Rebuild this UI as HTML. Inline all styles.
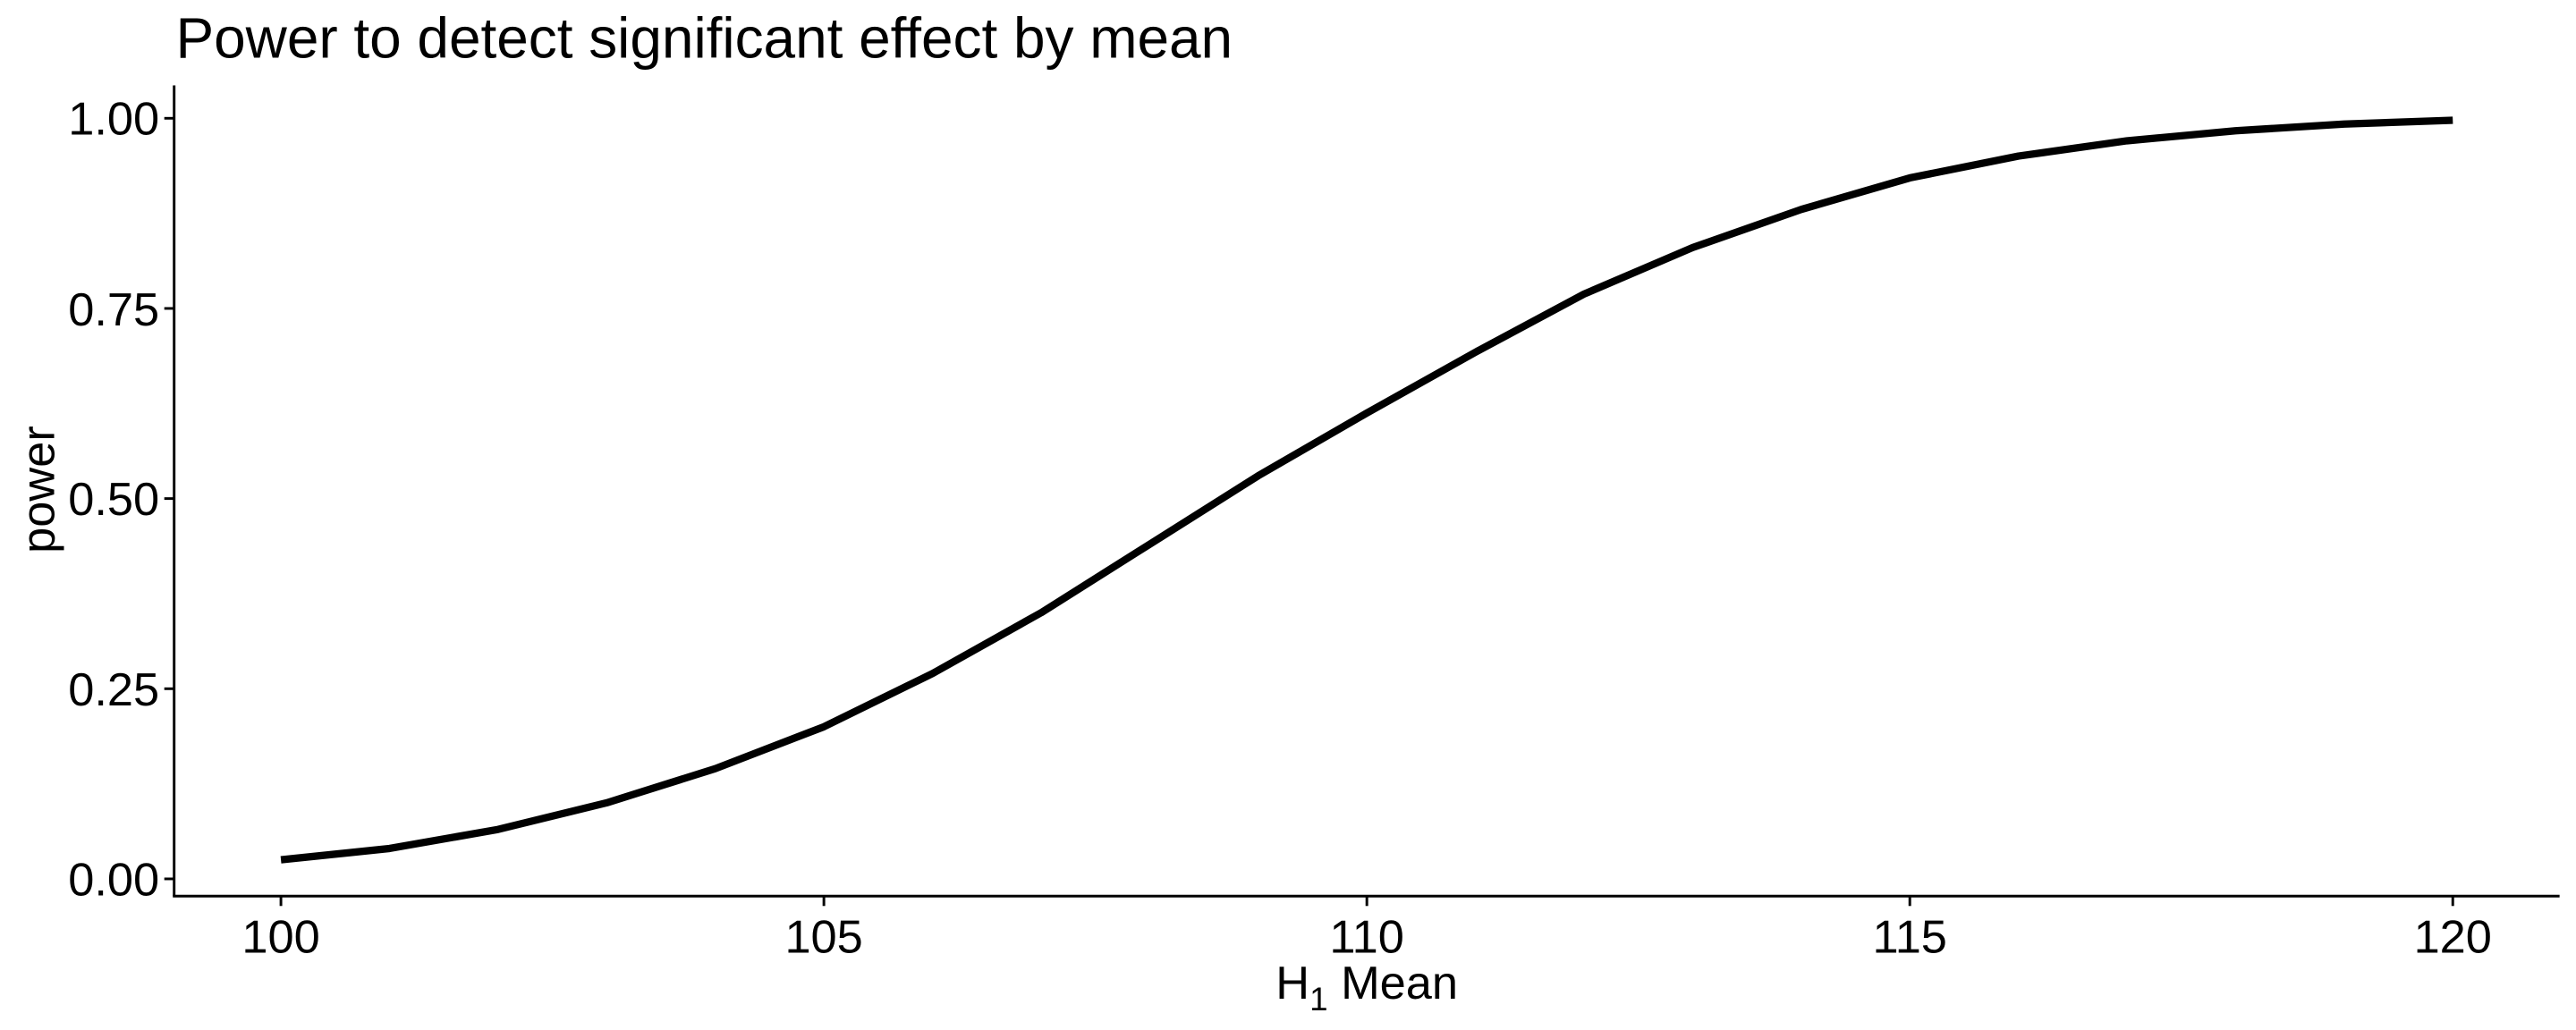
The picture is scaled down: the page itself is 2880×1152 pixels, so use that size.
<!DOCTYPE html>
<html><head><meta charset="utf-8"><style>html,body{margin:0;padding:0;background:#fff}svg{display:block}</style></head>
<body>
<svg width="2880" height="1152" viewBox="0 0 1568 627" preserveAspectRatio="none" xmlns="http://www.w3.org/2000/svg" font-family="Liberation Sans, sans-serif">
<rect width="1568" height="627" fill="#fff"/>
<text x="107" y="35" font-size="34.8" fill="#000">Power to detect significant effect by mean</text>
<g stroke="#000" stroke-width="1.6" fill="none">
<line x1="106" y1="52" x2="106" y2="545.5"/>
<line x1="105.2" y1="545.5" x2="1558" y2="545.5"/>
<line x1="100" y1="72" x2="106" y2="72"/>
<line x1="100" y1="187.75" x2="106" y2="187.75"/>
<line x1="100" y1="303.5" x2="106" y2="303.5"/>
<line x1="100" y1="419.25" x2="106" y2="419.25"/>
<line x1="100" y1="535" x2="106" y2="535"/>
<line x1="171" y1="545.5" x2="171" y2="551.5"/>
<line x1="501.5" y1="545.5" x2="501.5" y2="551.5"/>
<line x1="832" y1="545.5" x2="832" y2="551.5"/>
<line x1="1162.5" y1="545.5" x2="1162.5" y2="551.5"/>
<line x1="1493" y1="545.5" x2="1493" y2="551.5"/>
</g>
<g font-size="28.5" fill="#000" text-anchor="end">
<text x="97" y="82">1.00</text>
<text x="97" y="198">0.75</text>
<text x="97" y="313.5">0.50</text>
<text x="97" y="429.5">0.25</text>
<text x="97" y="545">0.00</text>
</g>
<g font-size="28.5" fill="#000" text-anchor="middle">
<text x="171" y="580">100</text>
<text x="501.5" y="580">105</text>
<text x="832" y="580">110</text>
<text x="1162.5" y="580">115</text>
<text x="1493" y="580">120</text>
<text x="832" y="608">H<tspan font-size="20" dy="7">1</tspan><tspan dy="-7"> Mean</tspan></text>
<text transform="translate(33,298) rotate(-90)">power</text>
</g>
<polyline fill="none" stroke="#000" stroke-width="4.5" stroke-linejoin="round" points="171,523.4 237.1,516.5 303.2,504.9 369.3,488.7 435.4,467.9 501.5,442.4 567.6,410 633.7,373 699.8,331.3 765.9,289.6 832,251.4 898.1,214.4 964.2,179 1030.3,150.7 1096.4,127.5 1162.5,108.3 1228.6,95 1294.7,85.7 1360.8,79.6 1426.9,75.5 1493,73.2"/>
</svg>
</body></html>
